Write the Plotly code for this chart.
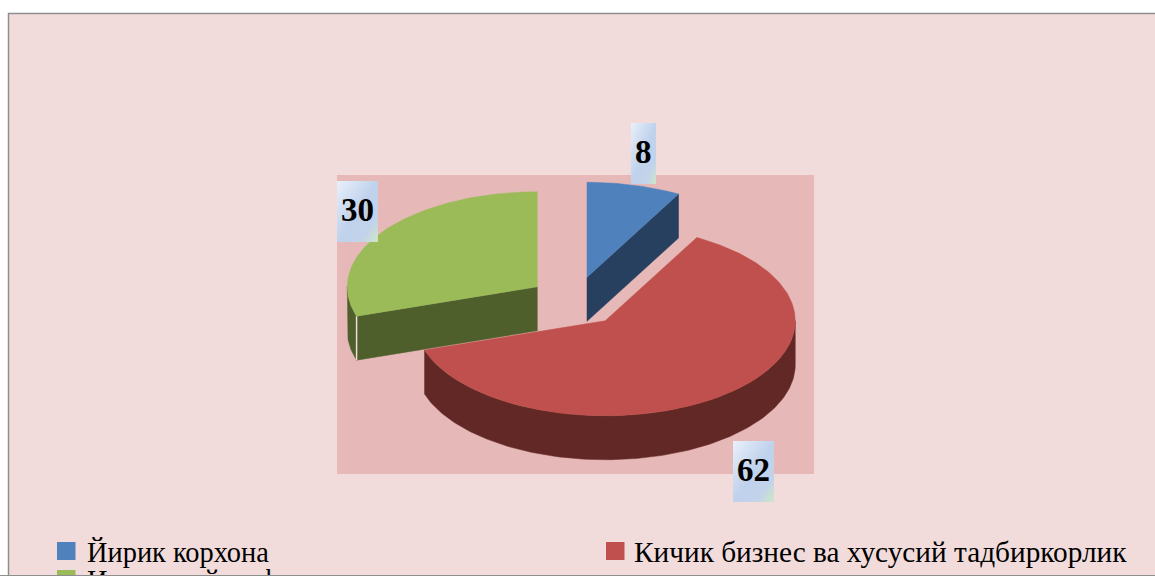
import base64
import math
import plotly.graph_objects as go

categories = ["Йирик корхона", "Кичик бизнес ва хусусий тадбиркорлик", "Иқтисодий ва фермер ташкилотлари"]
values = [8, 62, 30]
top_colors = ["#4F81BD", "#C0504D", "#9BBB59"]
wall_colors = ["#27405F", "#622826", "#4F5F2C"]

W, H = 1155, 575
CX, CY, RX, RY, DEPTH = 575.3, 301.5, 190, 95, 44
EXPLODE_X, EXPLODE_Y = 47, 25


def pt(cx, cy, deg, dz=0):
    a = math.radians(deg)
    return cx + RX * math.sin(a), cy - RY * math.cos(a) + dz


def poly(points, color, name):
    xs = [p[0] for p in points] + [points[0][0]]
    ys = [p[1] for p in points] + [points[0][1]]
    return go.Scatter(x=xs, y=ys, mode="lines", fill="toself", fillcolor=color,
                      line=dict(color=color, width=0.5), name=name,
                      showlegend=False, hoverinfo="name")


def arc(cx, cy, a0, a1, dz=0):
    n = max(2, int(abs(a1 - a0)) + 1)
    return [pt(cx, cy, a0 + (a1 - a0) * i / (n - 1), dz) for i in range(n)]


fig = go.Figure()
total = sum(values)
slices = []
start = 0.0
for name, v, tc, wc in zip(categories, values, top_colors, wall_colors):
    sweep = 360.0 * v / total
    m = math.radians(start + sweep / 2)
    slices.append(dict(name=name, a0=start, a1=start + sweep,
                       cx=CX + EXPLODE_X * math.sin(m), cy=CY - EXPLODE_Y * math.cos(m), tc=tc, wc=wc))
    start += sweep

# draw back-to-front: green, blue, red
for s in (slices[2], slices[0], slices[1]):
    cx, cy, a0, a1 = s["cx"], s["cy"], s["a0"], s["a1"]
    # radial wall, only where the cut edge faces the viewer
    if 0 < a1 < 180:
        c = pt(cx, cy, a1)
        fig.add_trace(poly([(cx, cy), c, (c[0], c[1] + DEPTH), (cx, cy + DEPTH)], s["wc"], s["name"]))
    if 180 < a0 < 360:
        c = pt(cx, cy, a0)
        fig.add_trace(poly([(cx, cy), c, (c[0], c[1] + DEPTH), (cx, cy + DEPTH)], s["wc"], s["name"]))
    # outer rim (front half of the ellipse)
    lo, hi = max(a0, 90), min(a1, 270)
    if lo < hi:
        fig.add_trace(poly(arc(cx, cy, lo, hi) + arc(cx, cy, hi, lo, DEPTH), s["wc"], s["name"]))
    if 180 < a0 < 270:
        c = pt(cx, cy, a0)
        fig.add_trace(go.Scatter(x=[c[0], c[0]], y=[c[1], c[1] + DEPTH], mode="lines",
                                 line=dict(color="#F2DCDB", width=1.5), showlegend=False, hoverinfo="skip"))
    # top face
    fig.add_trace(poly([(cx, cy)] + arc(cx, cy, a0, a1), s["tc"], s["name"]))

svg = ('<svg xmlns="http://www.w3.org/2000/svg" width="41" height="61" preserveAspectRatio="none">'
       '<defs><linearGradient id="g" x1="0" y1="0" x2="1" y2="1">'
       '<stop offset="0" stop-color="#E9F0FA"/><stop offset="0.5" stop-color="#C0D2EC"/>'
       '<stop offset="0.78" stop-color="#C2D3EA"/><stop offset="1" stop-color="#D0E6C6"/>'
       '</linearGradient></defs><rect width="41" height="61" fill="url(#g)"/></svg>')
grad = "data:image/svg+xml;base64," + base64.b64encode(svg.encode()).decode()

label_boxes = [(631, 656, 123, 184), (733, 774, 441, 502), (337, 378, 181, 242)]
images, annotations = [], []
for (x0, x1, y0, y1), v in zip(label_boxes, values):
    images.append(dict(source=grad, xref="x", yref="y", x=x0, y=y0, sizex=x1 - x0, sizey=y1 - y0,
                       sizing="stretch", xanchor="left", yanchor="top", layer="above"))
    annotations.append(dict(x=(x0 + x1) / 2, y=(y0 + y1) / 2 - 1.5, text=f"<b>{v}</b>", showarrow=False,
                            xref="x", yref="y", font=dict(family="Liberation Serif", size=33, color="#000")))

legend_pos = [(57, 551), (606, 551), (57, 579)]
legend_text_x = [85, 632, 85]
legend_size = [28.4, 29.3, 28.4]
shapes = [
    dict(type="rect", xref="x", yref="y", x0=8.5, x1=1160, y0=13.5, y1=600,
         fillcolor="#F2DCDB", line=dict(color="#8E8E8E", width=1.5), layer="below"),
    dict(type="rect", xref="x", yref="y", x0=337, x1=814, y0=175, y1=474,
         fillcolor="#E6B9B8", line_width=0, layer="below"),
]
for (x, y), tx, size, name, c in zip(legend_pos, legend_text_x, legend_size, categories, top_colors):
    shapes.append(dict(type="rect", xref="x", yref="y", x0=x, x1=x + 18.5, y0=y - 9, y1=y + 9,
                       fillcolor=c, line_width=0, layer="above"))
    annotations.append(dict(x=tx, y=1 - (y + 1) / H, text=name, showarrow=False, xanchor="left", yanchor="middle",
                            xref="x", yref="paper",
                            font=dict(family="Liberation Serif", size=size, color="#000")))

fig.update_layout(
    width=W, height=H, margin=dict(l=0, r=0, t=0, b=0), paper_bgcolor="#FFFFFF", plot_bgcolor="rgba(0,0,0,0)",
    xaxis=dict(range=[0, W], visible=False, fixedrange=True),
    yaxis=dict(range=[H, 0], visible=False, fixedrange=True),
    shapes=shapes, images=images, annotations=annotations, showlegend=False,
)
fig.write_html("out.html", config=dict(displayModeBar=False),
               post_script="document.body.style.margin='0';document.body.style.overflow='hidden';"
                           "document.body.style.background='#8E8E8E';")
